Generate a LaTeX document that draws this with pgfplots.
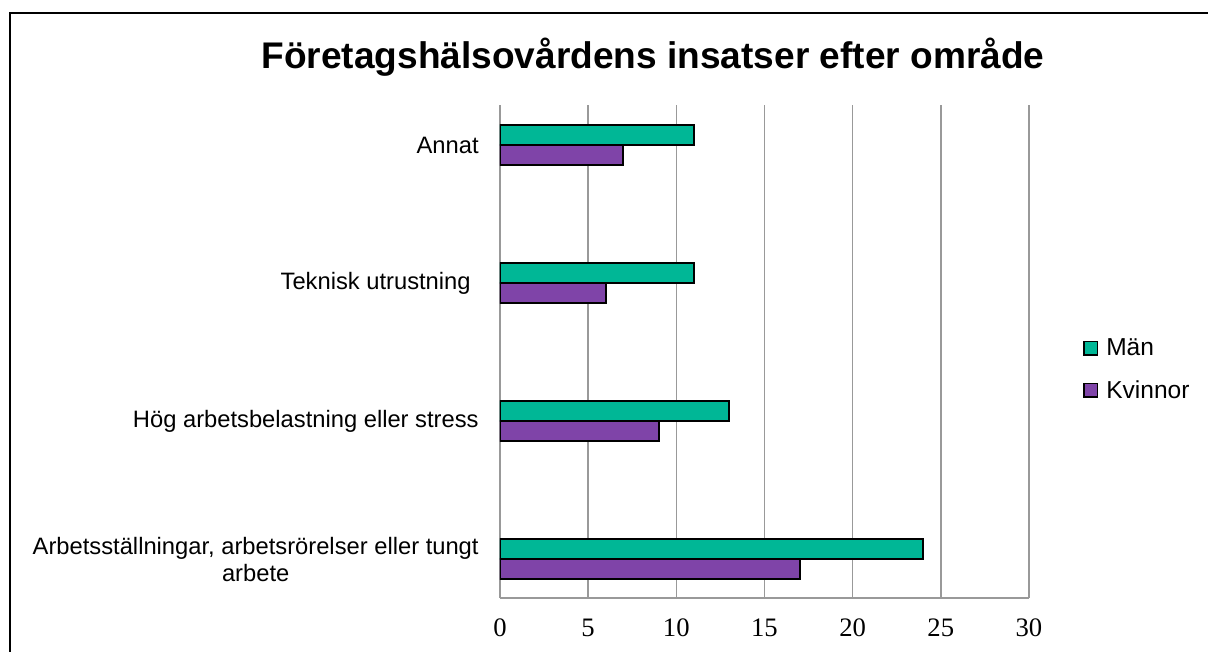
\documentclass[border=0pt]{standalone}
\usepackage{pgfplots}
\pgfplotsset{compat=1.18}
\usepackage{fontspec}
\setmainfont{Liberation Sans}
\newfontfamily\timesf{Liberation Serif}
\definecolor{man}{HTML}{00B796}
\definecolor{kvinna}{HTML}{7F44A8}
\definecolor{gridc}{HTML}{999999}
\begin{document}
\begin{tikzpicture}
\path[use as bounding box] (0,0) rectangle (906pt,489pt);
\draw[line width=1.5pt] (7.5pt,0) -- (7.5pt,479.25pt) -- (906pt,479.25pt);
\node[font=\bfseries\fontsize{27.8}{32}\selectfont] at (489.75pt,446.25pt) {Företagshälsovårdens insatser efter område};
\begin{axis}[
  at={(375pt,40.5pt)}, anchor=south west,
  scale only axis, width=396.75pt, height=369.75pt,
  xbar, bar width=15pt,
  xmin=0, xmax=30, ymin=-0.28, ymax=3.29,
  xtick={0,5,10,15,20,25,30},
  ytick={0,1,2,3},
  yticklabels={{Arbetsställningar, arbetsrörelser eller tungt\\arbete},{Hög arbetsbelastning eller stress},{Teknisk utrustning\hspace{6pt}},{Annat}},
  major tick length=0pt,
  axis x line*=bottom, axis y line*=left,
  x axis line style={gridc, line width=1.2pt, -},
  y axis line style={draw=none},
  xmajorgrids, grid style={gridc, line width=1.2pt},
  /pgf/number format/assume math mode=true,
  xticklabel style={font=\timesf\fontsize{20}{22}\selectfont, yshift=-12pt},
  yticklabel style={font=\fontsize{17.8}{20}\selectfont, align=center, xshift=-12.5pt},
  legend style={at={(1.102,0.4635)}, anchor=west, draw=none, fill=none,
    font=\fontsize{18.4}{20}\selectfont, row sep=13pt, inner sep=0pt,
    /tikz/every odd column/.append style={column sep=4pt}},
  legend cell align=left,
  legend image code/.code={\draw[#1, draw=black, line width=1.3pt] (0pt,-5pt) rectangle (10pt,5pt);},
]
\addplot[fill=man, draw=black, line width=1.4pt, bar shift=7.5pt] coordinates {(24,0) (13,1) (11,2) (11,3)};
\addplot[fill=kvinna, draw=black, line width=1.4pt, bar shift=-7.5pt] coordinates {(17,0) (9,1) (6,2) (7,3)};
\legend{Män,Kvinnor}
\end{axis}
\end{tikzpicture}
\end{document}
